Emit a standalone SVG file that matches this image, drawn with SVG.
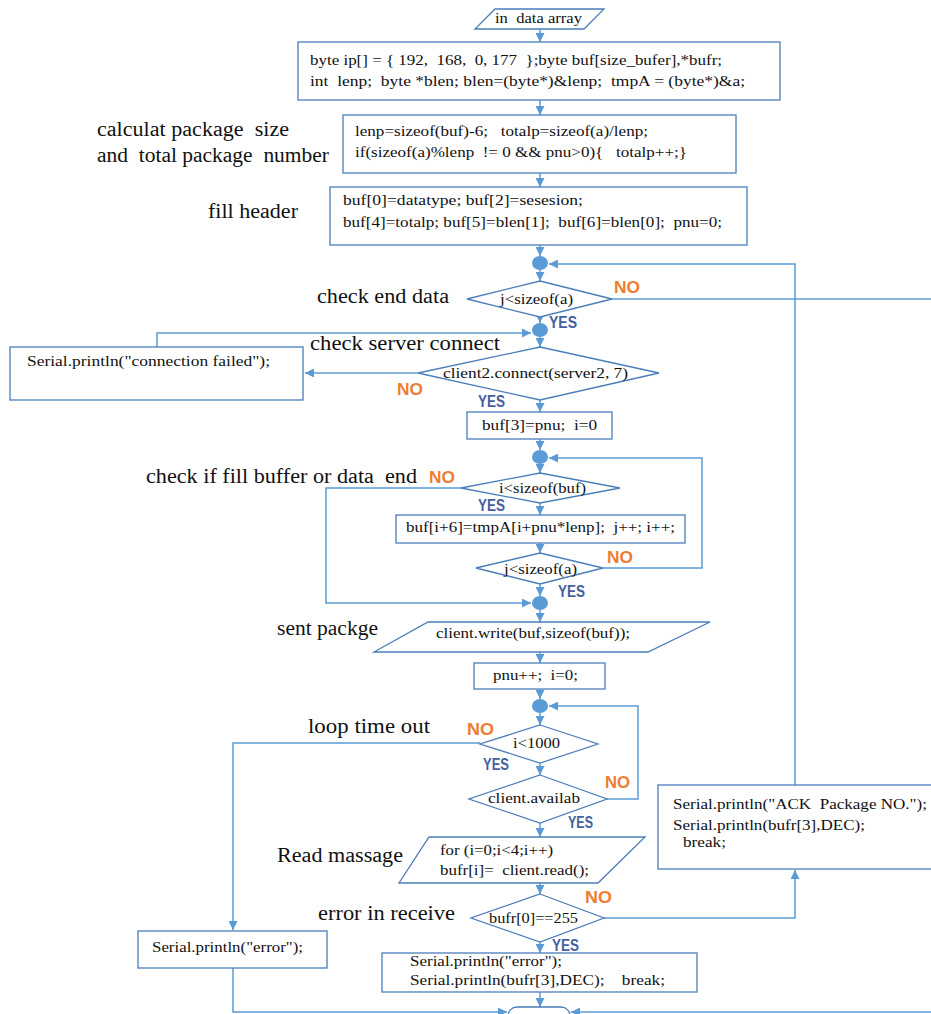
<svg xmlns="http://www.w3.org/2000/svg" width="931" height="1014" viewBox="0 0 931 1014" xml:space="preserve">
<defs>
<marker id="ah" markerUnits="userSpaceOnUse" markerWidth="10" markerHeight="9" refX="9" refY="4.5" orient="auto">
<path d="M0,0 L9,4.5 L0,9 z" fill="#5B9BD5"/>
</marker>
<style>
text{white-space:pre}
.shape{fill:#fff;stroke:#4A7EBB;stroke-width:1.3}
.dot{fill:#5B9BD5;stroke:none}
.con{fill:none;stroke:#5B9BD5;stroke-width:1.5}
.arr{marker-end:url(#ah)}
.code{font-family:"Liberation Serif","Times New Roman",serif;font-size:15px;fill:#111}
.lab{font-family:"Liberation Serif","Times New Roman",serif;font-size:20px;fill:#111}
.no{font-family:"Liberation Sans",Arial,sans-serif;font-size:17px;font-weight:bold;fill:#ED7D31}
.yes{font-family:"Liberation Sans",Arial,sans-serif;font-size:17px;font-weight:bold;fill:#44609E}
</style>
</defs>
<rect width="931" height="1014" fill="#fff"/>
<g id="connectors">
<path class="con arr" d="M540,29 V42"/>
<path class="con arr" d="M540,100 V115"/>
<path class="con arr" d="M540,173 V187"/>
<path class="con arr" d="M540,245 V256"/>
<path class="con arr" d="M540,270 V281"/>
<path class="con arr" d="M540,317 V323"/>
<path class="con arr" d="M540,337 V347"/>
<path class="con arr" d="M540,400 V412"/>
<path class="con arr" d="M540,439 V450"/>
<path class="con arr" d="M540,464 V473"/>
<path class="con arr" d="M540,503 V515"/>
<path class="con arr" d="M540,543 V553"/>
<path class="con arr" d="M540,584 V596"/>
<path class="con arr" d="M540,610 V622"/>
<path class="con arr" d="M540,652 V663"/>
<path class="con arr" d="M540,689 V699"/>
<path class="con arr" d="M540,713 V725"/>
<path class="con arr" d="M540,763 V775"/>
<path class="con arr" d="M540,823 V837"/>
<path class="con arr" d="M540,883 V894"/>
<path class="con arr" d="M540,942 V953"/>
<path class="con arr" d="M540,992 V1007"/>
<path class="con arr" d="M795,785 V264 H549"/>
<path class="con" d="M612,299 H931"/>
<path class="con arr" d="M157,347 V333 H531"/>
<path class="con arr" d="M418,373 H305"/>
<path class="con arr" d="M461,488 H326 V603 H531"/>
<path class="con arr" d="M603,568 H702 V458 H549"/>
<path class="con arr" d="M480,743 H233 V930"/>
<path class="con arr" d="M607,799 H638 V706 H549"/>
<path class="con arr" d="M604,918 H795 V870"/>
<path class="con arr" d="M233,968 V1012 H507"/>
<path class="con arr" d="M931,1012 H571"/>
</g>
<g id="start">
<polygon class="shape" points="495,9 604,9 584,29 475,29"/>
<text class="code" x="495" y="23" textLength="87" lengthAdjust="spacingAndGlyphs">in  data array</text>
</g>
<g id="init">
<rect class="shape" x="298" y="42" width="482" height="58"/>
<text class="code" x="310" y="65" textLength="412" lengthAdjust="spacingAndGlyphs">byte ip[] = { 192,  168,  0, 177  };byte buf[size_bufer],*bufr;</text>
<text class="code" x="310" y="86" textLength="435" lengthAdjust="spacingAndGlyphs">int  lenp;  byte *blen; blen=(byte*)&amp;lenp;  tmpA = (byte*)&amp;a;</text>
</g>
<g id="calc">
<rect class="shape" x="343" y="115" width="393" height="58"/>
<text class="code" x="355" y="136" textLength="293" lengthAdjust="spacingAndGlyphs">lenp=sizeof(buf)-6;   totalp=sizeof(a)/lenp;</text>
<text class="code" x="355" y="157" textLength="332" lengthAdjust="spacingAndGlyphs">if(sizeof(a)%lenp  != 0 &amp;&amp; pnu&gt;0){   totalp++;}</text>
<text class="lab" x="97" y="136" textLength="192" lengthAdjust="spacingAndGlyphs">calculat package  size</text>
<text class="lab" x="97" y="162" textLength="232" lengthAdjust="spacingAndGlyphs">and  total package  number</text>
</g>
<g id="header">
<rect class="shape" x="330" y="187" width="417" height="58"/>
<text class="code" x="343" y="205" textLength="240" lengthAdjust="spacingAndGlyphs">buf[0]=datatype; buf[2]=sesesion;</text>
<text class="code" x="343" y="227" textLength="379" lengthAdjust="spacingAndGlyphs">buf[4]=totalp; buf[5]=blen[1];  buf[6]=blen[0];  pnu=0;</text>
<text class="lab" x="208" y="218" textLength="90" lengthAdjust="spacingAndGlyphs">fill header</text>
</g>
<g id="join1"><ellipse class="dot" cx="540" cy="263" rx="8" ry="7"/></g>
<g id="checkEnd">
<polygon class="shape" points="540,281 612,299 540,317 467,299"/>
<text class="code" x="500" y="304" textLength="73" lengthAdjust="spacingAndGlyphs">j&lt;sizeof(a)</text>
<text class="lab" x="317" y="303" textLength="132" lengthAdjust="spacingAndGlyphs">check end data</text>
<text class="no" x="614" y="293" textLength="26" lengthAdjust="spacingAndGlyphs">NO</text>
<text class="yes" x="549" y="328" textLength="28" lengthAdjust="spacingAndGlyphs">YES</text>
</g>
<g id="join2"><ellipse class="dot" cx="540" cy="330" rx="8" ry="7"/></g>
<g id="connFail">
<rect class="shape" x="10" y="347" width="293" height="53"/>
<text class="code" x="27" y="366" textLength="243" lengthAdjust="spacingAndGlyphs">Serial.println("connection failed");</text>
</g>
<g id="checkServer">
<polygon class="shape" points="540,347 659,373 540,400 418,373"/>
<text class="code" x="443" y="378" textLength="185" lengthAdjust="spacingAndGlyphs">client2.connect(server2, 7)</text>
<text class="lab" x="310" y="350" textLength="190" lengthAdjust="spacingAndGlyphs">check server connect</text>
<text class="no" x="397" y="395" textLength="26" lengthAdjust="spacingAndGlyphs">NO</text>
<text class="yes" x="478" y="407" textLength="27" lengthAdjust="spacingAndGlyphs">YES</text>
</g>
<g id="setPnu">
<rect class="shape" x="467" y="412" width="145" height="27"/>
<text class="code" x="482" y="430" textLength="115" lengthAdjust="spacingAndGlyphs">buf[3]=pnu;  i=0</text>
</g>
<g id="join3"><ellipse class="dot" cx="540" cy="457" rx="8" ry="7"/></g>
<g id="checkBuf">
<polygon class="shape" points="540,473 620,488 540,503 461,488"/>
<text class="code" x="499" y="493" textLength="87" lengthAdjust="spacingAndGlyphs">i&lt;sizeof(buf)</text>
<text class="lab" x="146" y="483" textLength="271" lengthAdjust="spacingAndGlyphs">check if fill buffer or data  end</text>
<text class="no" x="429" y="483" textLength="26" lengthAdjust="spacingAndGlyphs">NO</text>
<text class="yes" x="478" y="511" textLength="27" lengthAdjust="spacingAndGlyphs">YES</text>
</g>
<g id="fillBuf">
<rect class="shape" x="396" y="515" width="289" height="28"/>
<text class="code" x="406" y="532" textLength="269" lengthAdjust="spacingAndGlyphs">buf[i+6]=tmpA[i+pnu*lenp];  j++; i++;</text>
</g>
<g id="checkEnd2">
<polygon class="shape" points="540,553 603,568 540,584 476,568"/>
<text class="code" x="504" y="574" textLength="73" lengthAdjust="spacingAndGlyphs">j&lt;sizeof(a)</text>
<text class="no" x="607" y="563" textLength="26" lengthAdjust="spacingAndGlyphs">NO</text>
<text class="yes" x="558" y="597" textLength="27" lengthAdjust="spacingAndGlyphs">YES</text>
</g>
<g id="join4"><ellipse class="dot" cx="540" cy="603" rx="8" ry="7"/></g>
<g id="send">
<polygon class="shape" points="428,622 710,622 648,652 374,652"/>
<text class="code" x="436" y="638" textLength="194" lengthAdjust="spacingAndGlyphs">client.write(buf,sizeof(buf));</text>
<text class="lab" x="277" y="635" textLength="101" lengthAdjust="spacingAndGlyphs">sent packge</text>
</g>
<g id="incPnu">
<rect class="shape" x="474" y="663" width="131" height="26"/>
<text class="code" x="493" y="680" textLength="85" lengthAdjust="spacingAndGlyphs">pnu++;  i=0;</text>
</g>
<g id="join5"><ellipse class="dot" cx="540" cy="706" rx="8" ry="7"/></g>
<g id="timeout">
<polygon class="shape" points="540,725 598,744 540,763 480,744"/>
<text class="code" x="513" y="748" textLength="47" lengthAdjust="spacingAndGlyphs">i&lt;1000</text>
<text class="lab" x="308" y="733" textLength="122" lengthAdjust="spacingAndGlyphs">loop time out</text>
<text class="no" x="467" y="735" textLength="27" lengthAdjust="spacingAndGlyphs">NO</text>
<text class="yes" x="483" y="770" textLength="26" lengthAdjust="spacingAndGlyphs">YES</text>
</g>
<g id="available">
<polygon class="shape" points="540,775 607,799 540,823 469,799"/>
<text class="code" x="488" y="803" textLength="92" lengthAdjust="spacingAndGlyphs">client.availab</text>
<text class="no" x="605" y="788" textLength="25" lengthAdjust="spacingAndGlyphs">NO</text>
<text class="yes" x="568" y="828" textLength="25" lengthAdjust="spacingAndGlyphs">YES</text>
</g>
<g id="read">
<polygon class="shape" points="429,837 645,837 598,883 399,883"/>
<text class="code" x="440" y="855" textLength="113" lengthAdjust="spacingAndGlyphs">for (i=0;i&lt;4;i++)</text>
<text class="code" x="440" y="875" textLength="149" lengthAdjust="spacingAndGlyphs">bufr[i]=  client.read();</text>
<text class="lab" x="277" y="862" textLength="126" lengthAdjust="spacingAndGlyphs">Read massage</text>
</g>
<g id="checkRecv">
<polygon class="shape" points="540,894 604,918 540,942 471,918"/>
<text class="code" x="489" y="923" textLength="89" lengthAdjust="spacingAndGlyphs">bufr[0]==255</text>
<text class="lab" x="318" y="920" textLength="137" lengthAdjust="spacingAndGlyphs">error in receive</text>
<text class="no" x="585" y="903" textLength="27" lengthAdjust="spacingAndGlyphs">NO</text>
<text class="yes" x="552" y="951" textLength="27" lengthAdjust="spacingAndGlyphs">YES</text>
</g>
<g id="ack">
<rect class="shape" x="658" y="785" width="290" height="84"/>
<text class="code" x="673" y="809" textLength="254" lengthAdjust="spacingAndGlyphs">Serial.println("ACK  Package NO.");</text>
<text class="code" x="673" y="830" textLength="192" lengthAdjust="spacingAndGlyphs">Serial.println(bufr[3],DEC);</text>
<text class="code" x="683" y="847" textLength="43" lengthAdjust="spacingAndGlyphs">break;</text>
</g>
<g id="errTimeout">
<rect class="shape" x="138" y="931" width="189" height="37"/>
<text class="code" x="152" y="952" textLength="151" lengthAdjust="spacingAndGlyphs">Serial.println("error");</text>
</g>
<g id="errRecv">
<rect class="shape" x="382" y="953" width="315" height="39"/>
<text class="code" x="410" y="966" textLength="152" lengthAdjust="spacingAndGlyphs">Serial.println("error");</text>
<text class="code" x="410" y="985" textLength="255" lengthAdjust="spacingAndGlyphs">Serial.println(bufr[3],DEC);    break;</text>
</g>
<g id="end">
<rect class="shape" x="508" y="1007" width="62" height="24" rx="9"/>
</g>
</svg>
